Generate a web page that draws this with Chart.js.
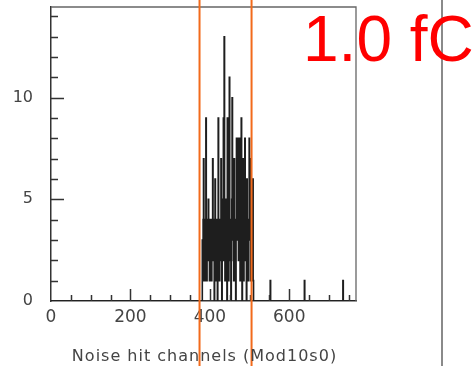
<!DOCTYPE html>
<html>
<head>
<meta charset="utf-8">
<script src="https://cdn.jsdelivr.net/npm/chart.js@4.4.1/dist/chart.umd.min.js"></script>
<style>
  body { margin: 0; background: white; }
  canvas { display: block; }
</style>
</head>
<body>
<canvas id="noiseChart" width="474" height="366"></canvas>
<script>
// Noise hits per channel, Mod10s0 //

const NUM_CHANNELS = 768
const FIRST_BUSY_CHANNEL = 380

// counts for channels 380..510, one entry per channel
const busyCounts = [
    0, 3, 1, 4, 7, 2, 3, 1, 4, 2,
    9, 3, 1, 4, 2, 3, 5, 2, 4, 1,
    3, 2, 4, 2, 1, 3, 4, 7, 2, 4,
    3, 0, 2, 6, 3, 4, 1, 3, 4, 0,
    2, 9, 3, 4, 1, 4, 3, 2, 7, 4,
    0, 3, 5, 2, 9, 4, 13, 3, 1, 5,
    4, 2, 4, 0, 9, 3, 5, 1, 4, 11,
    2, 4, 3, 0, 4, 5, 10, 3, 4, 2,
    1, 7, 4, 2, 3, 0, 4, 8, 3, 5,
    8, 4, 2, 8, 3, 8, 1, 4, 3, 9,
    4, 0, 4, 7, 3, 1, 4, 3, 8, 4,
    2, 4, 0, 6, 3, 4, 1, 4, 3, 8,
    4, 7, 1, 4, 3, 4, 1, 4, 6, 1,
    0
]

// single hits further out
const strayChannels = [552, 638, 735]
const strayCounts = [1, 1, 1]

// the two cut lines
const cutChannels = [374, 505]

const xTickLabels = [0, 200, 400, 600]
const yTickLabels = [0, 5, 10]
const Y_MAX = 14.46

const label = "1.0 fC"
const xTitle = "Noise hit channels (Mod10s0)"


function buildHistogram() {
    let counts = new Array(NUM_CHANNELS).fill(0)
    busyCounts.forEach((c, i) => { counts[FIRST_BUSY_CHANNEL + i] = c })
    strayChannels.forEach((ch, i) => { counts[ch] = strayCounts[i] })

    // one point per bin left edge, plus the closing edge
    let points = counts.map((c, ch) => ({ x: ch, y: c }))
    points.push({ x: NUM_CHANNELS, y: 0 })
    return points
}


// ROOT style inward ticks, frame, cut lines and the pad texts
const rootDecor = {
    id: 'rootDecor',
    afterDatasetsDraw(chart) {
        const ctx = chart.ctx
        const area = chart.chartArea
        const xs = chart.scales.x
        const ys = chart.scales.y

        ctx.save()
        ctx.strokeStyle = '#333'
        ctx.lineWidth = 1.5
        ctx.beginPath()
        for (let v = 1; v <= Math.floor(Y_MAX); v++) {
            let y = Math.round(ys.getPixelForValue(v)) + 0.5
            let len = (v % 5 === 0) ? 13 : 7
            ctx.moveTo(area.left, y)
            ctx.lineTo(area.left + len, y)
        }
        for (let v = 50; v < NUM_CHANNELS; v += 50) {
            let x = Math.round(xs.getPixelForValue(v)) + 0.5
            let len = (v % 200 === 0) ? 12 : 6
            ctx.moveTo(x, area.bottom)
            ctx.lineTo(x, area.bottom - len)
        }
        ctx.stroke()

        // top and right side of the frame
        ctx.strokeStyle = '#666'
        ctx.lineWidth = 1.3
        ctx.beginPath()
        ctx.moveTo(area.left, area.top)
        ctx.lineTo(area.right, area.top)
        ctx.lineTo(area.right, area.bottom)
        ctx.stroke()

        // cut lines run over the whole pad
        ctx.strokeStyle = '#f26a1b'
        ctx.lineWidth = 2
        ctx.beginPath()
        cutChannels.forEach(ch => {
            let x = xs.getPixelForValue(ch)
            ctx.moveTo(x, 0)
            ctx.lineTo(x, chart.height)
        })
        ctx.stroke()

        // border to the next pad
        ctx.strokeStyle = '#8a8a8a'
        ctx.lineWidth = 2
        ctx.beginPath()
        ctx.moveTo(442, 0)
        ctx.lineTo(442, chart.height)
        ctx.stroke()

        // axis title, spaced out a little like the ROOT font
        ctx.fillStyle = '#444'
        ctx.font = '16px "DejaVu Sans"'
        ctx.letterSpacing = '1px'
        ctx.textAlign = 'center'
        ctx.textBaseline = 'alphabetic'
        ctx.fillText(xTitle, (area.left + area.right) / 2 + 1, 361)

        ctx.letterSpacing = '0px'
        ctx.textAlign = 'left'
        ctx.fillStyle = '#ff0000'
        ctx.font = '64px "Liberation Sans", Arial, sans-serif'
        ctx.fillText(label, 303, 61)
        ctx.restore()
    }
}


function DrawHistogram() {
    const ChartElement = document.getElementById('noiseChart')

    new Chart(ChartElement, {
        type: 'line',
        data: {
            datasets: [{
                data: buildHistogram(),
                stepped: true,
                borderColor: '#1e1e1e',
                borderWidth: 1.6,
                pointRadius: 0,
                fill: false
            }]
        },
        options: {
            responsive: false,
            animation: false,
            devicePixelRatio: 1,
            layout: { padding: { top: 7, right: 118, left: 0, bottom: 0 } },
            plugins: { legend: { display: false }, tooltip: { enabled: false } },
            scales: {
                x: {
                    type: 'linear',
                    min: 0,
                    max: NUM_CHANNELS,
                    afterFit: scale => {
                        scale.height = 65
                        scale.paddingLeft = 0
                        scale.paddingRight = 0
                    },
                    afterBuildTicks: scale => { scale.ticks = xTickLabels.map(v => ({ value: v })) },
                    ticks: {
                        color: '#444',
                        font: { family: 'DejaVu Sans', size: 17 },
                        padding: 6,
                        autoSkip: false,
                        maxRotation: 0
                    },
                    grid: { display: false, drawTicks: false },
                    border: { display: true, color: '#333', width: 1.5 }
                },
                y: {
                    min: 0,
                    max: Y_MAX,
                    afterFit: scale => {
                        scale.width = 51
                        scale.paddingTop = 0
                        scale.paddingBottom = 0
                    },
                    afterBuildTicks: scale => { scale.ticks = yTickLabels.map(v => ({ value: v })) },
                    ticks: {
                        color: '#444',
                        font: { family: 'DejaVu Sans', size: 16 },
                        padding: 18
                    },
                    grid: { display: false, drawTicks: false },
                    border: { display: true, color: '#333', width: 1.5 }
                }
            }
        },
        plugins: [rootDecor]
    })
}

DrawHistogram()
</script>
</body>
</html>
